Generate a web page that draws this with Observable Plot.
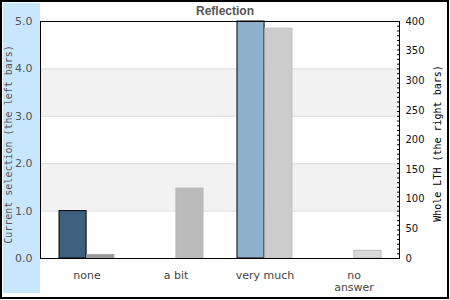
<!DOCTYPE html>
<html>
<head>
<meta charset="utf-8">
<script src="https://cdn.jsdelivr.net/npm/d3@7"></script>
<script src="https://cdn.jsdelivr.net/npm/@observablehq/plot@0.6"></script>
<style>
  html, body { margin: 0; padding: 0; background: #fff; }
  #wrap { position: relative; width: 450px; height: 300px; overflow: hidden; }
  #panel { position: absolute; left: 3px; top: 3px; width: 37px; height: 290px; background: #c8e7fd; }
  #border { position: absolute; left: 0; top: 0; width: 449px; height: 299px; box-sizing: border-box; border: 2px solid #000; pointer-events: none; }
  #chart { position: absolute; left: 0; top: 0; }
</style>
</head>
<body>
<div id="wrap"><div id="panel"></div><div id="chart"></div><div id="border"></div></div>
<script>
const title = "Reflection";
const categories = ["none", "a bit", "very much", "no answer"];
const currentSelection = [1.0, 0, 5.0, 0];      // left scale 0..5
const wholeLTH = [6, 118, 388, 13];              // right scale 0..400
const leftTicks = [0, 1, 2, 3, 4, 5];
const rightTicks = [0, 50, 100, 150, 200, 250, 300, 350, 400];
const leftTitle = "Current selection (the left bars)";
const rightTitle = "Whole LTH (the right bars)";

const leftFill = ["#3f607e", "#3f607e", "#8fb0cc", "#8fb0cc"];
const rightFill = ["#999999", "#bbbbbb", "#cccccc", "#d9d9d9"];
const rightStroke = ["#a9a9a9", "#b6b6b6", "#c2c2c2", "#b9b9b9"];

const rightMax = 400, leftMax = 5, ratio = rightMax / leftMax;

const rows = categories.map((c, i) => ({
  category: c,
  current: currentSelection[i],
  whole: wholeLTH[i],
  lf: leftFill[i], rf: rightFill[i], rs: rightStroke[i]
}));

const chart = Plot.plot({
  width: 450,
  height: 300,
  marginLeft: 40,
  marginRight: 51,
  marginTop: 21,
  marginBottom: 42,
  style: { background: "transparent", fontFamily: "DejaVu Sans" },
  x: { type: "band", domain: categories, padding: 0 },
  y: { domain: [0, leftMax] },
  marks: [
    Plot.rectY([{ a: 1, b: 2 }, { a: 3, b: 4 }], { y1: "a", y2: "b", fill: "#f2f2f2" }),
    Plot.ruleY([1, 2, 3, 4], { stroke: "#dcdcdc" }),
    Plot.barY(rows.filter(d => d.current > 0), {
      x: "category", y: "current", fill: d => d.lf, stroke: "black", strokeWidth: 1,
      insetLeft: 17, insetRight: 44.9
    }),
    Plot.barY(rows.filter(d => d.whole > 0), {
      x: "category", y: d => d.whole / ratio, fill: d => d.rf, stroke: d => d.rs, strokeWidth: 1,
      insetLeft: 44.9, insetRight: 17
    }),
    Plot.frame({ stroke: "black" }),
    Plot.axisY(leftTicks, {
      anchor: "left", tickSize: 0, tickPadding: 8, tickFormat: d => d.toFixed(1),
      fontSize: 11, fill: "#555", label: null
    }),
    Plot.axisY(d3.range(0, 51).map(i => i / 10), {
      anchor: "right", tickSize: 3, dx: -3, fill: "none", stroke: "black", label: null
    }),
    Plot.axisY(rightTicks.map(v => v / ratio), {
      anchor: "right", tickSize: 0, tickPadding: 6, tickFormat: d => Math.round(d * ratio),
      fontSize: 10, fill: "#111", label: null
    }),
    Plot.axisX(categories, {
      anchor: "bottom", tickSize: 0, tickPadding: 12, fontSize: 11, fill: "#444", label: null,
      lineHeight: 1.1,
      tickFormat: d => d === "no answer" ? "no\nanswer" : d
    }),
    Plot.text([title], {
      frameAnchor: "top", lineAnchor: "middle", textAnchor: "middle", dy: -10, dx: 5,
      fontSize: 12, fontWeight: "bold",
      fontFamily: "Liberation Sans, Arial, sans-serif", fill: "#555"
    }),
    Plot.text([leftTitle], {
      frameAnchor: "left", textAnchor: "middle", lineAnchor: "middle", rotate: -90,
      dx: -31.5, dy: 4.5, fontSize: 10,
      fontFamily: "DejaVu Sans Mono, monospace", fill: "#555"
    }),
    Plot.text([rightTitle], {
      frameAnchor: "right", textAnchor: "middle", lineAnchor: "middle", rotate: -90,
      dx: 38, dy: 3.5, fontSize: 10,
      fontFamily: "DejaVu Sans Mono, monospace", fill: "#000"
    })
  ]
});
document.getElementById("chart").appendChild(chart);
</script>
</body>
</html>
